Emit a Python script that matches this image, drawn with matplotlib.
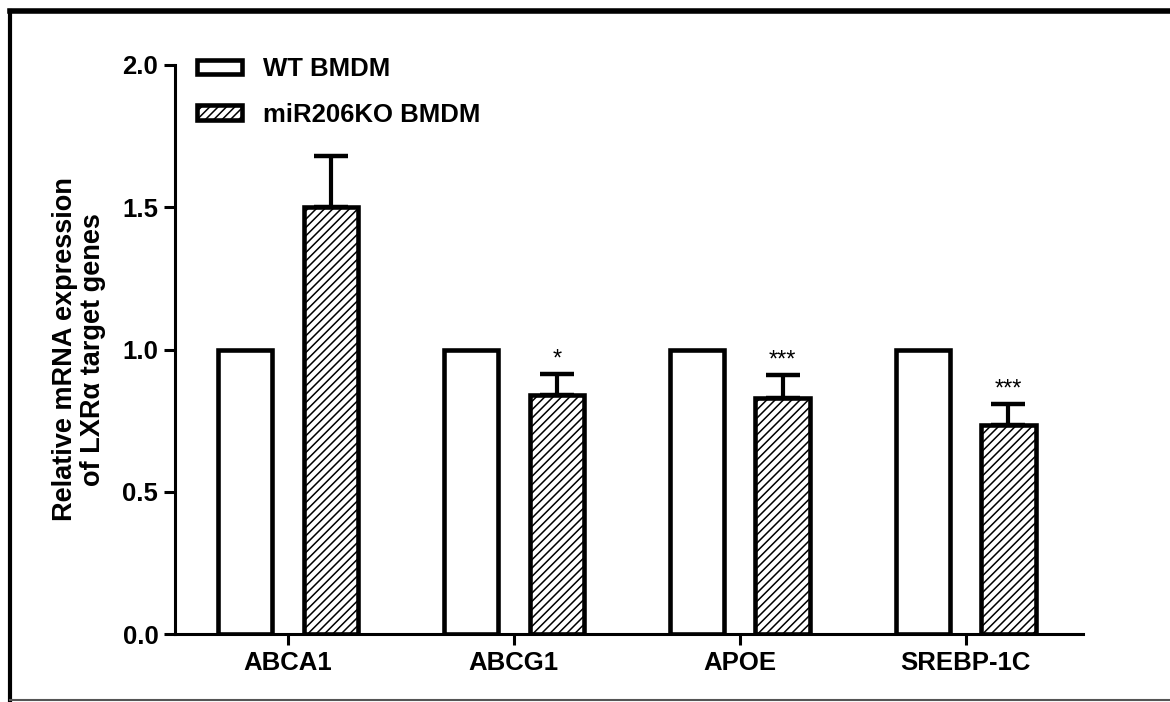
import matplotlib
matplotlib.use("Agg")
import matplotlib.pyplot as plt
from matplotlib.lines import Line2D
import numpy as np

genes = ["ABCA1", "ABCG1", "APOE", "SREBP-1C"]
wt_values = [1.0, 1.0, 1.0, 1.0]
ko_values = [1.50, 0.84, 0.83, 0.735]
ko_errors = [0.18, 0.075, 0.08, 0.075]
signif = ["", "*", "***", "***"]
series_labels = ["WT BMDM", "miR206KO BMDM"]
ylabel_text = "Relative mRNA expression\nof LXR\u03b1 target genes"

plt.rcParams['font.family'] = ['Liberation Sans', 'DejaVu Sans']
plt.rcParams['font.weight'] = 'bold'
plt.rcParams['hatch.linewidth'] = 1.1

W, H = 1170, 702
fig = plt.figure(figsize=(W / 100, H / 100), dpi=100)
ax = fig.add_axes([175 / W, 1 - 634 / H, (1083 - 175) / W, (634 - 65) / H])

x = np.arange(len(genes))
bw = 0.24
off = 0.19
lw = 3.3

ax.bar(x - off, wt_values, bw, facecolor='white', edgecolor='black', linewidth=lw,
       label=series_labels[0], zorder=3)
ax.errorbar(x + off, ko_values, yerr=[np.zeros(len(ko_errors)), ko_errors], fmt='none',
            ecolor='black', elinewidth=3, capsize=12, capthick=3.2, zorder=2)
ax.bar(x + off, ko_values, bw, facecolor='white', edgecolor='black', linewidth=lw,
       hatch='////', label=series_labels[1], zorder=3)

for xi, v, e, s in zip(x, ko_values, ko_errors, signif):
    if s:
        ax.text(xi + off, v + e + 0.012, s, ha='center', va='bottom', fontsize=17,
                fontweight='normal')

ax.set_xlim(-0.5, 3.52)
ax.set_ylim(0, 2.0)
ax.set_yticks([0, 0.5, 1.0, 1.5, 2.0])
ax.set_yticklabels(["0.0", "0.5", "1.0", "1.5", "2.0"])
ax.set_xticks(x)
ax.set_xticklabels(genes)
ax.tick_params(axis='both', direction='out', length=8, width=2.2, labelsize=18.5, pad=4)

for sp in ['top', 'right']:
    ax.spines[sp].set_visible(False)
for sp in ['left', 'bottom']:
    ax.spines[sp].set_linewidth(2.2)

ax.set_ylabel(ylabel_text, fontsize=19.5, fontweight='bold', labelpad=12, linespacing=1.1)

leg = ax.legend(loc='upper left', bbox_to_anchor=(197 / W, 1 - 57 / H),
                bbox_transform=fig.transFigure, frameon=False, fontsize=18.5,
                handlelength=1.75, handleheight=0.5, handletextpad=0.8,
                labelspacing=0.85, borderpad=0, borderaxespad=0)
for t in leg.get_texts():
    t.set_fontweight('bold')

# figure border (cropped frame)
fig.add_artist(Line2D([10 / W, 1.0], [1 - 10.5 / H, 1 - 10.5 / H], color='black', linewidth=4,
                      transform=fig.transFigure))
fig.add_artist(Line2D([10 / W, 10 / W], [1 - 10.5 / H, 1 - 700 / H], color='black', linewidth=3,
                      transform=fig.transFigure))
fig.add_artist(Line2D([10 / W, 1.0], [1 - 700 / H, 1 - 700 / H], color='#555555', linewidth=1.5,
                      transform=fig.transFigure))

fig.savefig("out.png", dpi=100)
